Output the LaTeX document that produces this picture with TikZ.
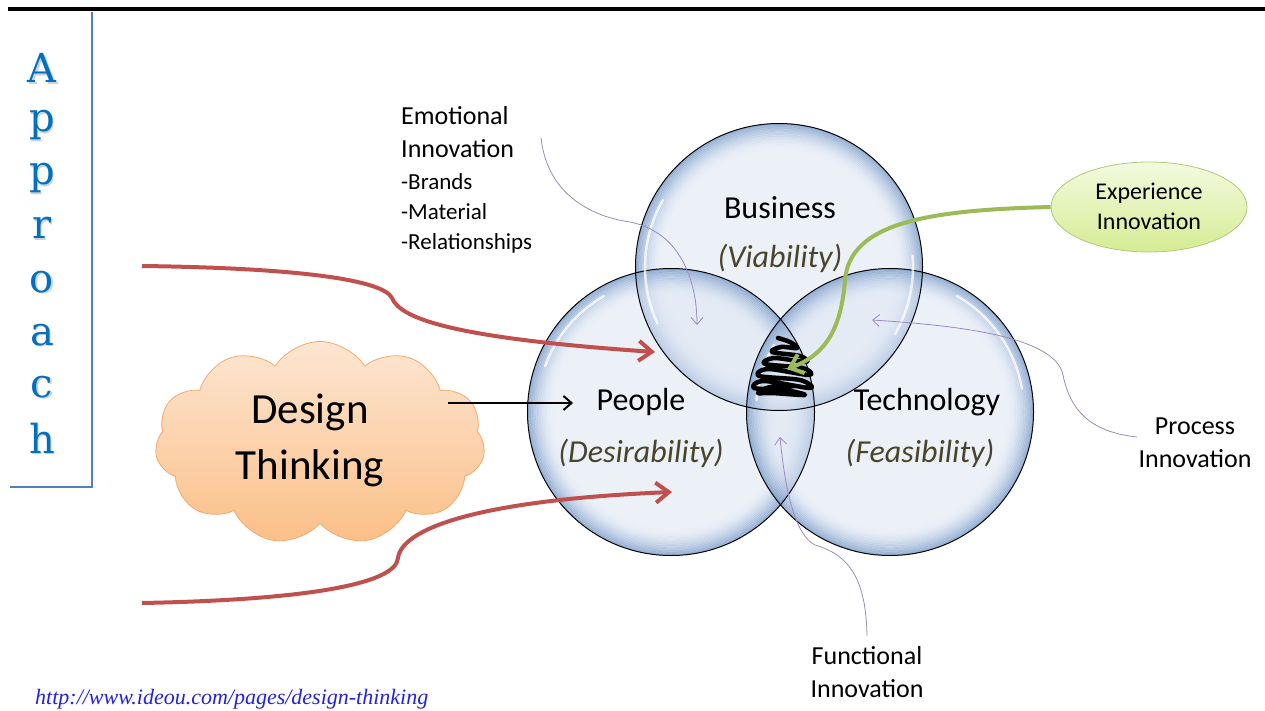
\documentclass[tikz,border=0pt]{standalone}
\usepackage{fontspec}
\setmainfont{Carlito}
\newfontfamily\apfont{DejaVu Serif}
\newfontfamily\urlfont{Liberation Serif}
\usetikzlibrary{shapes.symbols,shapes.geometric,arrows.meta}
\definecolor{bubA}{HTML}{DDE6F3}
\definecolor{bubC}{HTML}{6A8FC2}
\definecolor{apblue}{HTML}{0070C0}
\definecolor{boxblue}{HTML}{4F81BD}
\definecolor{redarr}{HTML}{C0504D}
\definecolor{greenarr}{HTML}{9BBB59}
\definecolor{purp}{HTML}{9C88C4}
\definecolor{olive}{HTML}{4A452A}
\definecolor{cloudtop}{HTML}{FDE6D2}
\definecolor{cloudbot}{HTML}{FBBF88}
\definecolor{cloudline}{HTML}{F4A96A}
\definecolor{elltop}{HTML}{F3FADF}
\definecolor{ellbot}{HTML}{D5EC93}
\definecolor{urlblue}{HTML}{2222DD}
\tikzset{
  bubline/.style={circle, minimum size=287pt, inner sep=0pt, draw=black, line width=1pt},
  title/.style={font=\fontsize{32}{36}\selectfont, text=black},
  sub/.style={font=\fontsize{32}{36}\selectfont\itshape, text=olive},
  lbl/.style={font=\fontsize{26}{33}\selectfont, align=left, text=black},
  redarrow/.style={draw=redarr, line width=4pt, -{Straight Barb[length=13pt,width=20pt,line width=4pt]}},
  purparrow/.style={draw=purp, line width=0.8pt, -{Straight Barb[length=7pt,width=12pt]}},
  aplet/.style={font=\apfont\fontsize{40}{40}\selectfont, text=apblue},
  apshadow/.style={font=\apfont\fontsize{40}{40}\selectfont, text=black!18},
  gloss/.style={white, line width=2.5pt, opacity=0.75, line cap=round},
}
\newcommand{\bubfill}[1]{%
  \fill[bubA, fill opacity=0.55] (#1) circle[radius=143.5];
  \foreach \k in {0,...,16}{
    \pgfmathsetmacro{\op}{0.6*(1-\k/17)^2}
    \draw[bubC, draw opacity=\op, line width=1.8pt] (#1) circle[radius=142.6-\k*1.6];
  }
}
\begin{document}
\begin{tikzpicture}[x=1pt,y=-1pt]
\useasboundingbox (0,0) rectangle (1265,711);
% top rule and Approach box
\draw[line width=4pt] (8,9) -- (1265,9);
\draw[boxblue, line width=2pt] (92,12) -- (92,487) -- (10,487);
\foreach \l/\yy [count=\i] in {A/68,p/125,p/178,r/228,o/282,a/335,c/387,h/438}{
  \node[apshadow] at (43.5,\yy+1.5) {\l};
  \node[aplet] (ap\i) at (42,\yy) {\l};
}
% circles
\coordinate (busC) at (779,267);
\coordinate (peoC) at (671,412);
\coordinate (tecC) at (890,412);
\bubfill{busC}
\bubfill{peoC}
\bubfill{tecC}
\node[bubline] (bus) at (busC) {};
\node[bubline] (peo) at (peoC) {};
\node[bubline] (tec) at (tecC) {};
% gloss highlights (screen angles are negated because y points down)
\draw[gloss] (busC) ++(-150:134) arc[start angle=-150, end angle=-205, radius=134];
\draw[gloss] (busC) ++(-5:134) arc[start angle=-5, end angle=30, radius=134];
\draw[gloss] (peoC) ++(-120:134) arc[start angle=-120, end angle=-160, radius=134];
\draw[gloss] (tecC) ++(-60:134) arc[start angle=-60, end angle=-10, radius=134];
\draw[gloss] (tecC) ++(-150:134) arc[start angle=-150, end angle=-175, radius=134];
% circle texts
\node[title] (busT) at (780,208) {Business};
\node[sub] (busS) at (780,258) {(Viability)};
\node[title] (peoT) at (641,402) {People};
\node[sub] (peoS) at (641,453) {(Desirability)};
\node[title] (tecT) at (927,402) {Technology};
\node[sub] (tecS) at (920,453) {(Feasibility)};
% scribble
\draw[black, line width=4.5pt, line cap=round, line join=round] plot[smooth, tension=0.55] coordinates {(778,338) (790,342) (797,348) (781,347) (772,352) (800,356) (806,362) (774,358) (765,364) (803,368) (809,375) (768,369) (759,376) (800,380) (810,388) (764,381) (754,388) (785,390) (805,395) (772,393) (758,393) (770,387) (795,386)};
% cloud
\node[cloud, cloud puffs=11, cloud puff arc=115, aspect=1.6, minimum width=330pt, minimum height=203pt, top color=cloudtop, bottom color=cloudbot, draw=cloudline, line width=0.8pt, inner sep=0pt] (cloud) at (320,443) {};
\node[font=\fontsize{43}{56}\selectfont, align=center] (cloudT) at (310,440) {Design\\Thinking};
\coordinate (cloudE) at (448,403);
\coordinate (peoW) at (573,403);
\draw[black, line width=2pt, -{Straight Barb[length=8pt,width=14pt,line width=2pt]}] (cloudE) -- (peoW);
% red arrows
\coordinate (redA1) at (142,266);
\coordinate (redA2) at (655,352);
\coordinate (redB1) at (142,603);
\coordinate (redB2) at (672,492);
\draw[redarrow] (redA1) .. controls (300,268) and (383,280) .. (392,298) .. controls (400,318) and (450,338) .. (redA2);
\draw[redarrow] (redB1) .. controls (300,600) and (396,585) .. (398,558) .. controls (402,528) and (480,500) .. (redB2);
% experience ellipse
\node[ellipse, minimum width=196pt, minimum height=90pt, top color=elltop, bottom color=ellbot, draw=greenarr!80, line width=0.8pt, inner sep=0pt] (exp) at (1149,207) {};
\node[font=\fontsize{24}{30}\selectfont, align=center] (expT) at (1149,206) {Experience\\Innovation};
\coordinate (center3) at (787,369);
\draw[draw=greenarr, line width=4pt, -{Straight Barb[length=12pt,width=20pt,line width=4pt]}] (exp.west) .. controls (930,210) and (850,222) .. (845,280) .. controls (841,330) and (825,355) .. (center3);
% labels
\node[lbl, anchor=north west, inner sep=0pt] (emo) at (401,106) {Emotional\\Innovation};
\node[font=\fontsize{23}{30}\selectfont, align=left, anchor=north west, inner sep=0pt] (emoL) at (401,173) {-Brands\\-Material\\-Relationships};
\node[lbl, align=center] (proc) at (1195,443) {Process\\Innovation};
\node[lbl, align=center] (func) at (867,672) {Functional\\Innovation};
% purple arrows
\coordinate (emoS) at (541,138);
\coordinate (emoE) at (697,325);
\draw[purparrow] (emoS) .. controls (548,200) and (600,218) .. (630,222) .. controls (680,232) and (697,280) .. (emoE);
\coordinate (procS) at (1137,437);
\coordinate (procE) at (872,320);
\draw[purparrow] (procS) .. controls (1090,432) and (1070,410) .. (1063,375) .. controls (1055,335) and (950,325) .. (procE);
\coordinate (funcS) at (867,636);
\coordinate (funcE) at (780,437);
\draw[purparrow] (funcS) .. controls (866,580) and (850,555) .. (815,545) .. controls (795,535) and (785,490) .. (funcE);
% url
\node[font=\urlfont\itshape\fontsize{22}{22}\selectfont, text=urlblue, anchor=base west, inner sep=0pt] (url) at (35,704) {http://www.ideou.com/pages/design-thinking};
\end{tikzpicture}
\end{document}
